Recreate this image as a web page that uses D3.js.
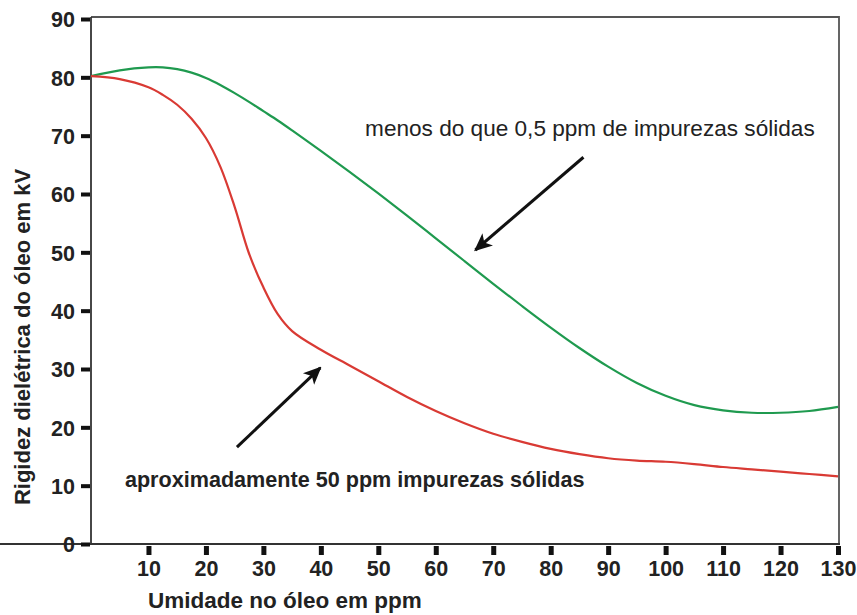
<!DOCTYPE html>
<html><head><meta charset="utf-8">
<script src="https://cdn.jsdelivr.net/npm/d3@7"></script>
<style>body{margin:0;background:#fff}svg{display:block}</style>
</head><body>
<script>
// ---- data ----
const moisture = [0,5,10,12.5,15,17.5,20,22.5,25,27.5,30,32.5,35,40,45,50,55,60,65,70,75,80,85,90,95,100,105,110,115,120,125,130];
const lowImpurities = [80.2,81.2,81.7,81.7,81.4,80.8,79.9,78.7,77.3,75.8,74.2,72.6,70.9,67.4,63.8,60.1,56.3,52.4,48.5,44.6,40.8,37.1,33.6,30.4,27.6,25.4,23.8,22.9,22.5,22.5,22.8,23.5];
const highImpurities = [80.2,79.7,78.3,77.0,75.3,72.9,69.6,64.7,57.8,49.8,44.0,39.4,36.5,33.3,30.6,27.9,25.2,22.8,20.7,18.9,17.5,16.3,15.4,14.7,14.3,14.1,13.7,13.2,12.8,12.4,12.0,11.6];
const xTicks = [10,20,30,40,50,60,70,80,90,100,110,120,130];
const yTicks = [0,10,20,30,40,50,60,70,80,90];
const labelLow = "menos do que 0,5 ppm de impurezas sólidas";
const labelHigh = "aproximadamente 50 ppm impurezas sólidas";
const xTitle = "Umidade no óleo em ppm";
const yTitle = "Rigidez dielétrica do óleo em kV";
// annotation anchors in data units: [x, y]
const arrowLow = {from:[85.7,66.3], to:[66.9,50.4]};
const arrowHigh = {from:[25.4,16.6], to:[39.9,30.2]};
const textLowPos = [47.7,70.0];
const textHighPos = [5.9,9.8];

const W = 857, H = 615;
const svg = d3.select("body").append("svg").attr("width",W).attr("height",H)
  .style("font-family","'Liberation Sans', Arial, sans-serif");

const x = d3.scaleLinear().domain([0,130]).range([91,838]);
const y = d3.scaleLinear().domain([0,90]).range([544,19]);

// frame (top & right)
svg.append("path")
  .attr("d",`M${x(0)},17 L${x(130)+1},17 L${x(130)+1},${y(0)}`)
  .attr("fill","none").attr("stroke","#555").attr("stroke-width",1.8);

// Axes
const xAxis = svg.append("g").attr("transform",`translate(0,${y(0)})`)
  .call(d3.axisBottom(x).tickValues(xTicks).tickSize(11).tickPadding(6).tickSizeOuter(0));
const yAxis = svg.append("g").attr("transform",`translate(${x(0)},0)`)
  .call(d3.axisLeft(y).tickValues(yTicks).tickSize(11).tickPadding(5).tickSizeOuter(0));
[xAxis,yAxis].forEach(g=>{
  g.select(".domain").attr("stroke","#333").style("stroke-width","1.8px");
  g.selectAll(".tick line").attr("stroke","none");
  g.selectAll(".tick text").attr("fill","#222").attr("font-size",21.5).attr("font-weight","bold")
    .attr("font-family","'Liberation Sans', Arial, sans-serif");
});
// thick tick blocks
xAxis.selectAll(".tick").append("rect").attr("x",-2.5).attr("y",2).attr("width",5).attr("height",9).attr("fill","#111");
yAxis.selectAll(".tick").append("rect").attr("x",-10).attr("y",-2).attr("width",9).attr("height",4).attr("fill","#111");
yAxis.selectAll(".tick text").attr("dy","0.36em");
yAxis.select(".domain").attr("d",`M0,17V${y(0)}`);
xAxis.select(".domain").attr("d",`M0,0H${x(130)+2}`);

// lines
const line = d3.line().x((d,i)=>x(moisture[i])).y(d=>y(d)).curve(d3.curveCatmullRom.alpha(0.5));
svg.append("path").datum(lowImpurities).attr("d",line)
  .attr("fill","none").attr("stroke","#1f9a4f").attr("stroke-width",2.2);
svg.append("path").datum(highImpurities).attr("d",line)
  .attr("fill","none").attr("stroke","#d93a34").attr("stroke-width",2.2);

// arrows
svg.append("defs").append("marker").attr("id","ah")
  .attr("viewBox","0 0 10 10").attr("refX",9).attr("refY",5)
  .attr("markerWidth",6).attr("markerHeight",6).attr("markerUnits","strokeWidth")
  .attr("orient","auto")
  .append("path").attr("d","M0,0.5 L10,5 L0,9.5 L2.5,5 Z").attr("fill","#111");
[arrowLow,arrowHigh].forEach(a=>{
  svg.append("line")
    .attr("x1",x(a.from[0])).attr("y1",y(a.from[1]))
    .attr("x2",x(a.to[0])).attr("y2",y(a.to[1]))
    .attr("stroke","#111").attr("stroke-width",3).attr("marker-end","url(#ah)");
});

// annotation texts
svg.append("text").attr("x",x(textLowPos[0])).attr("y",y(textLowPos[1]))
  .attr("font-size",22.6).attr("fill","#222").text(labelLow);
svg.append("text").attr("x",x(textHighPos[0])).attr("y",y(textHighPos[1]))
  .attr("font-size",21.6).attr("font-weight","bold").attr("fill","#222").text(labelHigh);

// axis titles
svg.append("text").attr("x",148).attr("y",608)
  .attr("font-size",22.5).attr("font-weight","bold").attr("fill","#222").text(xTitle);
svg.append("text").attr("transform","translate(30,337) rotate(-90)")
  .attr("text-anchor","middle").attr("font-size",22).attr("font-weight","bold").attr("fill","#222").text(yTitle);
</script>
</body></html>
